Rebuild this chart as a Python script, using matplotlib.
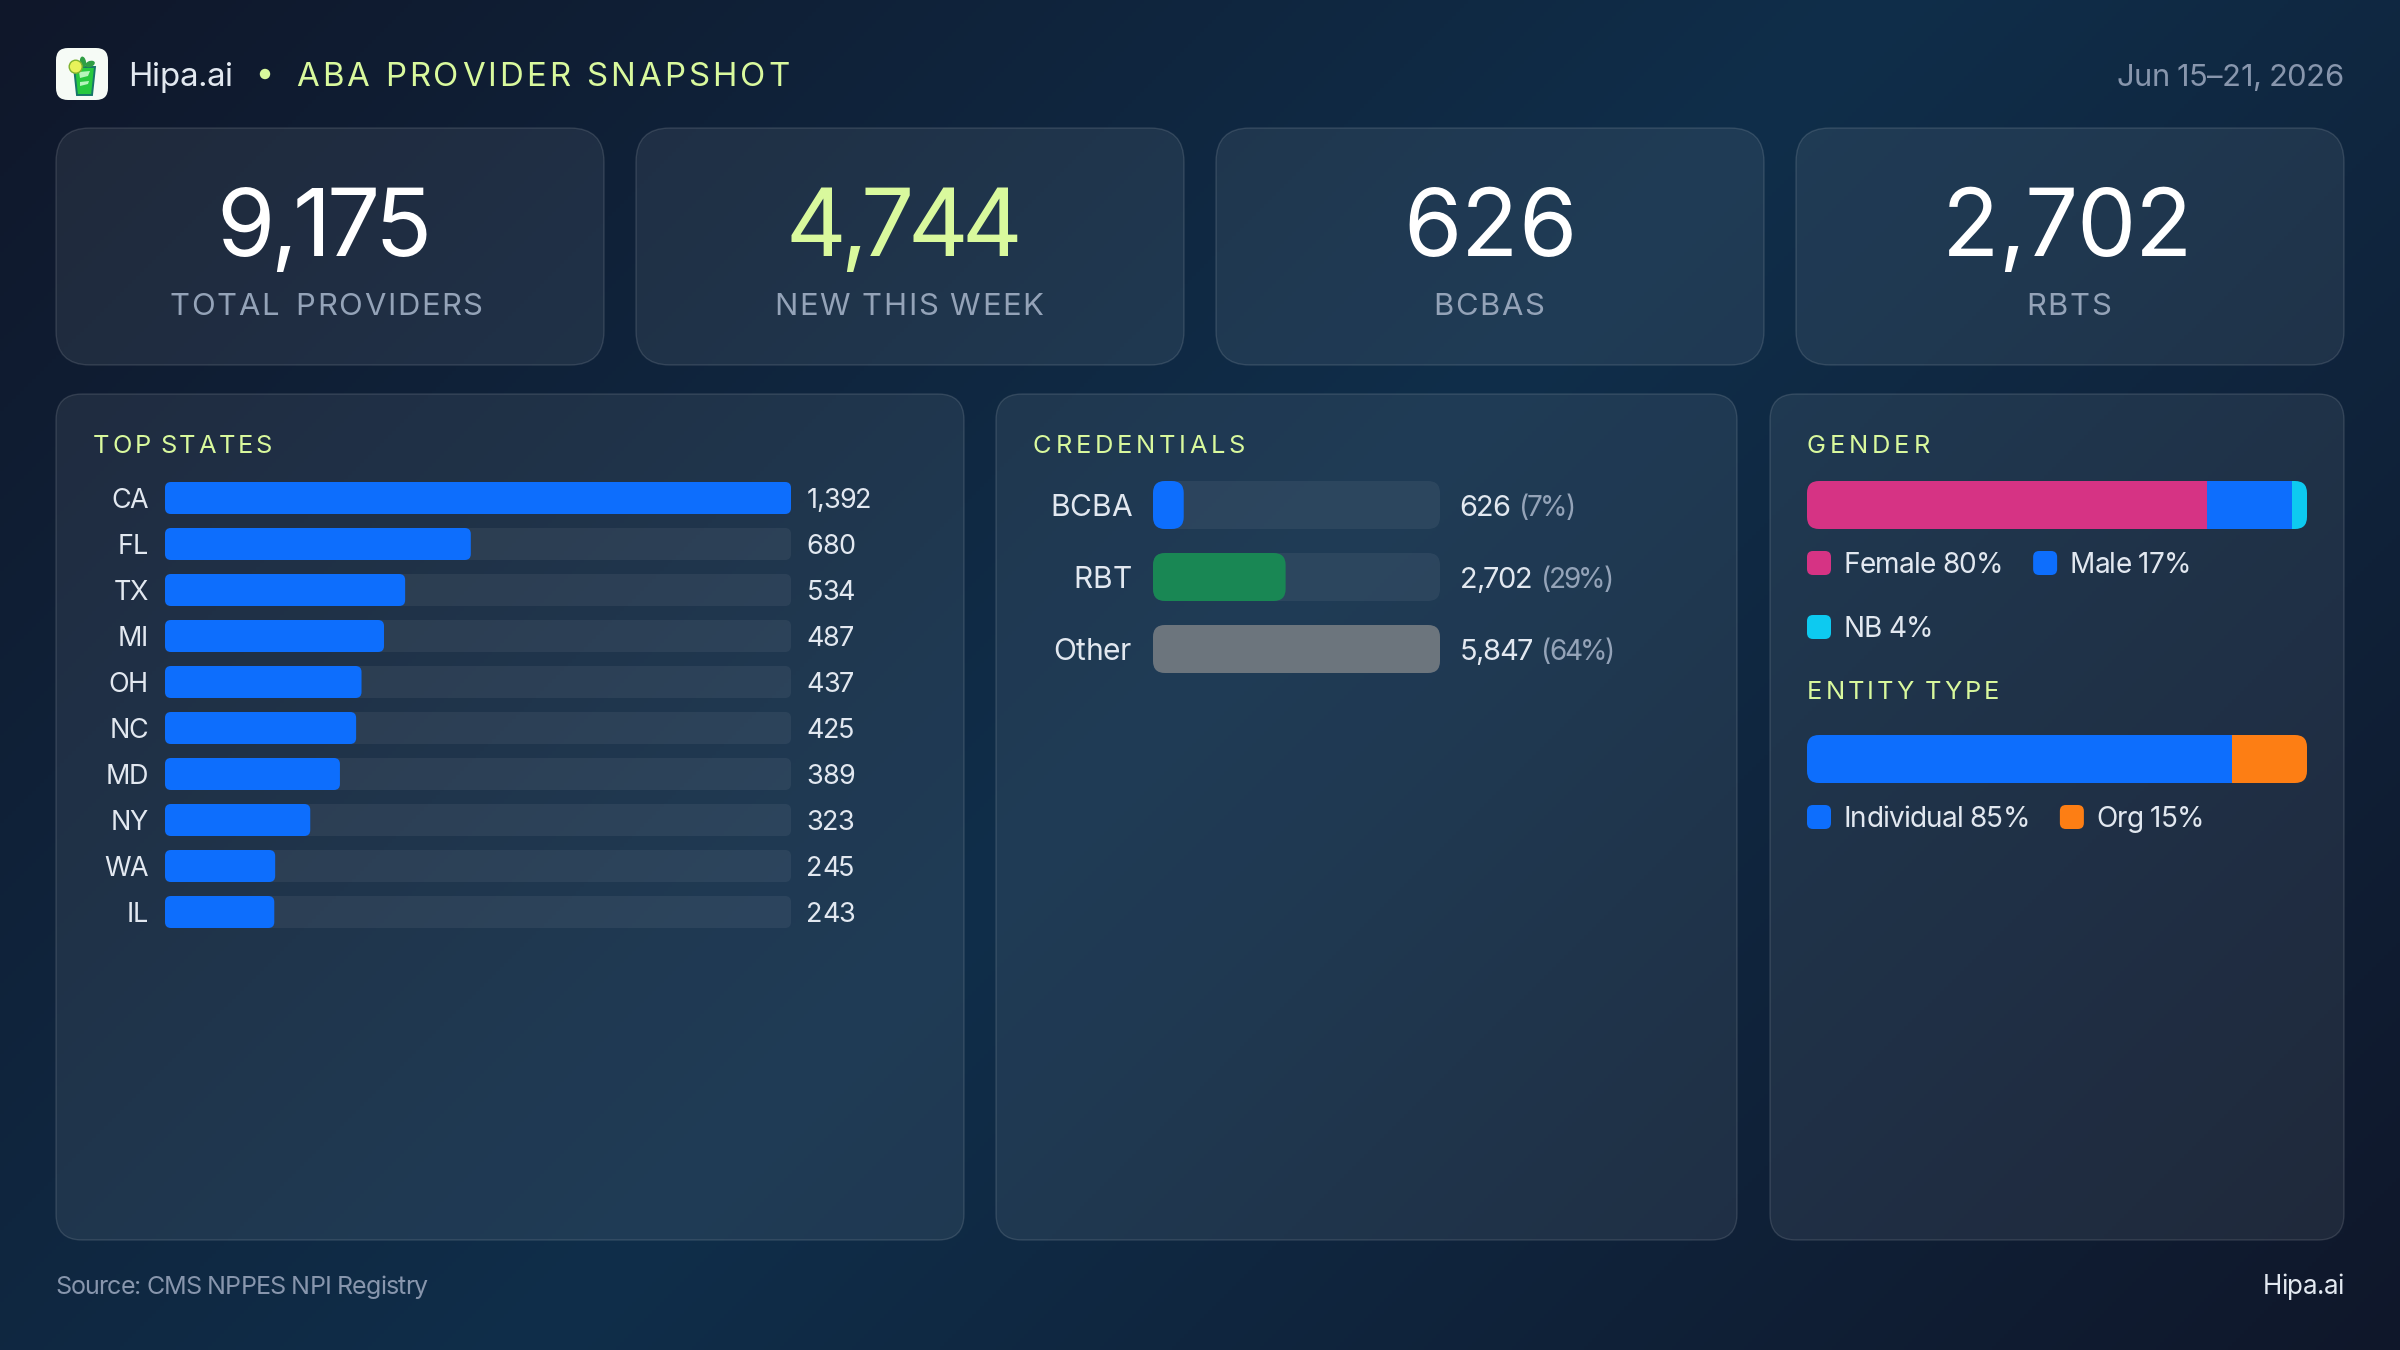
import numpy as np
import matplotlib
matplotlib.use("Agg")
import matplotlib.pyplot as plt

from matplotlib.colors import LinearSegmentedColormap, to_rgba
from matplotlib.font_manager import get_font, findfont
from matplotlib.patches import Circle, Ellipse, FancyBboxPatch, Polygon
from matplotlib.text import Text
from matplotlib.transforms import Bbox, offset_copy

plt.rcParams["font.family"] = ["Inter", "DejaVu Sans"]

W, H = 2400, 1350
PT = 0.72  # one pixel in points at dpi=100

# Colours
LIME = "#d9f99d"
WHITE = "#ffffff"
TEXT = "#e2e8f0"
MUTED = "#94a3b8"
DIM = "#8896ad"
BLUE = "#0d6efd"
GREEN = "#198754"
GREY = "#6c757d"
PINK = "#d63384"
CYAN = "#0dcaf0"
ORANGE = "#fd7e14"

# Data
kpi_values = ["9,175", "4,744", "626", "2,702"]
kpi_labels = ["TOTAL PROVIDERS", "NEW THIS WEEK", "BCBAS", "RBTS"]
kpi_colors = [WHITE, LIME, WHITE, WHITE]

states = ["CA", "FL", "TX", "MI", "OH", "NC", "MD", "NY", "WA", "IL"]
state_counts = [1392, 680, 534, 487, 437, 425, 389, 323, 245, 243]

cred_names = ["BCBA", "RBT", "Other"]
cred_counts = [626, 2702, 5847]
cred_shares = [7, 29, 64]
cred_colors = [BLUE, GREEN, GREY]

gender_names = ["Female", "Male", "NB"]
gender_shares = [80, 17, 4]
gender_colors = [PINK, BLUE, CYAN]

entity_names = ["Individual", "Org"]
entity_shares = [85, 15]
entity_colors = [BLUE, ORANGE]


class SpacedText(Text):
    """One text artist drawn with its own tracking between glyphs."""

    def __init__(self, *args, tracking=0, word_gap=0, **kwargs):
        super().__init__(*args, **kwargs)
        self.tracking = tracking
        self.word_gap = word_gap

    def _layout(self):
        prop = self.get_fontproperties()
        font = get_font(findfont(prop))
        font.set_size(prop.get_size_in_points(), self.get_figure().dpi)

        def width(s):
            font.set_text(s, 0.0)
            return font.get_width_height()[0] / 64

        def advance(s):
            # a trailing space has no ink, so measure up to a closing glyph
            return width(s + "H") - width("H")

        s = self.get_text()
        offsets = []
        for i, c in enumerate(s):
            gaps = s[:i].count(" ") * self.word_gap
            offsets.append(advance(s[:i]) + i * self.tracking + gaps if i else 0)
        total = width(s) + (len(s) - 1) * self.tracking + s.count(" ") * self.word_gap
        x, y = self.get_transform().transform(self.get_unitless_position())
        shift = {"left": 0, "center": total / 2, "right": total}[self.get_ha()]
        return s, offsets, total, x - shift, y

    def draw(self, renderer):
        if not self.get_visible():
            return
        s, offsets, _, x, y = self._layout()
        gc = renderer.new_gc()
        gc.set_foreground(self.get_color())
        gc.set_antialiased(True)
        y = renderer.height - y
        for c, off in zip(s, offsets):
            if c != " ":
                renderer.draw_text(gc, x + off, y, c, self.get_fontproperties(), 0)
        gc.restore()

    def get_window_extent(self, renderer=None, dpi=None):
        _, _, total, x, y = self._layout()
        h = self.get_fontproperties().get_size_in_points() / PT
        return Bbox.from_extents(x, y - 0.25 * h, x + total, y + 0.8 * h)


fig = plt.figure(figsize=(W / 100, H / 100), dpi=100)

# Page coordinates in pixels, y going down
page = fig.add_axes([0, 0, 1, 1])
page.set_xlim(0, W)
page.set_ylim(H, 0)
page.axis("off")

# Diagonal background
yy, xx = np.mgrid[0:H:4, 0:W:4]
ramp = (xx + yy) / (W + H)
bg_cmap = LinearSegmentedColormap.from_list(
    "page", ["#0f172a", "#0f2e4a", "#0f172a"]
)
page.imshow(
    ramp, cmap=bg_cmap, vmin=0, vmax=1, extent=(0, W, H, 0),
    aspect="auto", zorder=0
)


def box(ax, x, y, w, h, r, face, alpha=1.0, edge="none", edge_alpha=0.0, lw=0, z=1):
    patch = FancyBboxPatch(
        (x, y), w, h,
        boxstyle=f"round,pad=0,rounding_size={r}",
        facecolor=to_rgba(face, alpha),
        edgecolor=to_rgba(edge, edge_alpha) if edge != "none" else "none",
        linewidth=lw,
        zorder=z
    )
    ax.add_patch(patch)
    return patch


def spaced(x, y, s, size, color, tracking=0, ha="left", word_gap=0, ax=None, dx=0, dy=0):
    # dx, dy are pixel offsets, used when x, y are data values of a bar axes
    ax = ax or page
    t = SpacedText(
        x, y, s, fontsize=size * PT, color=color, ha=ha, va="baseline",
        tracking=tracking, word_gap=word_gap,
        transform=offset_copy(ax.transData, fig=fig, x=dx, y=dy, units="dots"),
        zorder=5
    )
    ax.add_artist(t)
    t.set_clip_on(False)
    return t


def card(x, y, w, h, r):
    box(page, x, y, w, h, r, WHITE, 0.07, WHITE, 0.12, 1.0)


def data_axes(x, y, w, h):
    ax = fig.add_axes([x / W, 1 - (y + h) / H, w / W, h / H])
    ax.axis("off")
    return ax


def rounded_bars(ax, rows, widths, height, r_px, colors, alpha=1.0):
    # rounding is set in x units; mutation_aspect keeps the corners circular
    bbox = ax.get_position()
    x0, x1 = ax.get_xlim()
    y0, y1 = ax.get_ylim()
    sx = bbox.width * W / abs(x1 - x0)
    sy = bbox.height * H / abs(y1 - y0)
    patches = []
    for row, value, color in zip(rows, widths, colors):
        patch = FancyBboxPatch(
            (0, row - height / 2), value, height,
            boxstyle=f"round,pad=0,rounding_size={r_px / sx}",
            mutation_aspect=sx / sy,
            facecolor=to_rgba(color, alpha),
            edgecolor="none"
        )
        ax.add_patch(patch)
        patches.append(patch)
    return patches


def stacked_bar(x, y, w, h, shares, colors):
    ax = data_axes(x, y, w, h)
    ax.set_xlim(0, 100)
    ax.set_ylim(0, 1)
    frame = rounded_bars(ax, [0.5], [100], 1, 12, ["none"], 0)[0]
    left = 0
    for share, color in zip(shares, colors):
        bar = ax.barh(0.5, share, height=1, left=left, color=color)[0]
        bar.set_clip_path(frame)
        left += share
    return ax


def legend(x, y, names, shares, colors):
    # items flow left to right and wrap inside the panel
    cx = x
    for name, share, color in zip(names, shares, colors):
        label = spaced(cx + 36.5, y + 22, f"{name} {share}%", 28, TEXT, -0.75)
        end = label.get_window_extent().x1
        if end > 2306:
            cx = x
            y += 64
            label.set_position((cx + 36.5, y + 22))
            end = label.get_window_extent().x1
        box(page, cx, y, 24, 24, 6, color, z=5)
        cx = end + 30


# Header
box(page, 56, 48, 52, 52, 12, "#f6fbf6", z=3)
page.add_patch(Polygon(
    [(74, 67), (95, 67), (92, 95), (77, 95)],
    closed=True, facecolor="#27c93f", edgecolor="#17756a", linewidth=1.4, zorder=4
))
page.add_patch(Polygon(
    [(79, 72), (90, 71), (88, 76), (80, 78)],
    closed=True, facecolor="#b6f5bc", edgecolor="none", zorder=4
))
page.add_patch(Polygon(
    [(80, 82), (89, 81), (88, 84), (80, 86)],
    closed=True, facecolor="#b6f5bc", edgecolor="none", zorder=4
))
page.add_patch(Ellipse((83, 62), 6, 11, angle=-10, facecolor="#2f9e44", zorder=4))
page.add_patch(Ellipse((90, 64), 10, 6, angle=-20, facecolor="#2f9e44", zorder=4))
page.add_patch(Circle((75.7, 66.7), 6.5, facecolor="#e8f25a", edgecolor="#7fb22e",
                      linewidth=1.0, zorder=5))

spaced(128, 86, "Hipa.ai", 33, TEXT, -0.4)
page.add_patch(Circle((265, 74), 5.2, facecolor=LIME, zorder=5))
spaced(296, 86, "ABA PROVIDER SNAPSHOT", 33, LIME, 3.15)
spaced(2343, 86, "Jun 15–21, 2026", 31, DIM, -0.7, ha="right")

# KPI cards
kpi_tracking = [-4.5, -6.5, 0, -1.2]
kpi_nudge = [-6, -6, 0, -3]
label_gap = [5, 0, 0, 0]
for i in range(4):
    x = 56 + i * 580
    card(x, 128, 548, 237, 34)
    spaced(x + 274 + kpi_nudge[i], 256, kpi_values[i], 94, kpi_colors[i],
           kpi_tracking[i], ha="center")
    spaced(x + 272.5 - label_gap[i] / 2, 315, kpi_labels[i], 31, MUTED, 1.6,
           ha="center", word_gap=label_gap[i])

# Panels
card(56, 394, 908, 846, 26)
card(996, 394, 741, 846, 26)
card(1770, 394, 574, 846, 26)

spaced(93, 453, "TOP STATES", 25.5, LIME, 2.7, word_gap=-3)
spaced(1033, 453, "CREDENTIALS", 25.5, LIME, 3.7)
spaced(1807, 453, "GENDER", 25.5, LIME, 3.8)
spaced(1807, 699, "ENTITY TYPE", 25.5, LIME, 3.0, word_gap=-2)

# Top states
ROW_H = 32 / 46
ax_states = data_axes(165, 482, 626, 46 * 9 + 32)
ax_states.set_xlim(0, max(state_counts))
ax_states.set_ylim(9 + ROW_H / 2, -ROW_H / 2)
rows = list(range(len(states)))
rounded_bars(ax_states, rows, [max(state_counts)] * len(rows), ROW_H, 6, [WHITE] * len(rows), 0.06)
rounded_bars(ax_states, rows, state_counts, ROW_H, 6, [BLUE] * len(rows))
for row, name, count in zip(rows, states, state_counts):
    spaced(0, row, name, 27, TEXT, -1.3, ha="right", ax=ax_states, dx=-17, dy=-9.5)
    spaced(max(state_counts), row, f"{count:,}", 27, TEXT, -1.0,
           ax=ax_states, dx=15.5, dy=-9.5)

# Credentials
CRED_H = 48 / 72
ax_cred = data_axes(1153, 481, 287, 192)
ax_cred.set_xlim(0, max(cred_counts))
ax_cred.set_ylim(2 + CRED_H / 2, -CRED_H / 2)
rows = list(range(len(cred_names)))
rounded_bars(ax_cred, rows, [max(cred_counts)] * len(rows), CRED_H, 12, [WHITE] * len(rows), 0.06)
rounded_bars(ax_cred, rows, cred_counts, CRED_H, 12, cred_colors)
for row, name, count, share in zip(rows, cred_names, cred_counts, cred_shares):
    spaced(0, row, name, 30, TEXT, -0.2, ha="right", ax=ax_cred, dx=-21.5, dy=-10.7)
    value = spaced(max(cred_counts), row, f"{count:,}", 29, TEXT, -1.4,
                   ax=ax_cred, dx=19.5, dy=-10.7)
    end = value.get_window_extent().x1
    spaced(end + 8.5, 515.7 + row * 72, f"({share}%)", 28, MUTED, -2.4)

# Gender and entity type
stacked_bar(1807, 481, 500, 48, gender_shares, gender_colors)
legend(1807, 551, gender_names, gender_shares, gender_colors)
stacked_bar(1807, 735, 500, 48, entity_shares, entity_colors)
legend(1807, 805, entity_names, entity_shares, entity_colors)

# Footer
spaced(55, 1294, "Source: CMS NPPES NPI Registry", 25, DIM, -0.85)
spaced(2344, 1294, "Hipa.ai", 26, TEXT, -0.5, ha="right")

fig.savefig("out.png", dpi=100)
